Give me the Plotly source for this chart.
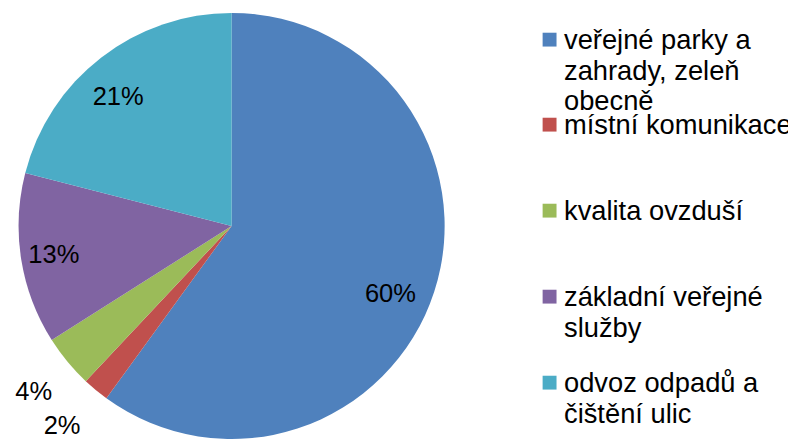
import plotly.graph_objects as go

# ---- data ----
labels = [
    "veřejné parky a<br>zahrady, zeleň<br>obecně",
    "místní komunikace",
    "kvalita ovzduší",
    "základní veřejné<br>služby",
    "odvoz odpadů a<br>čištění ulic",
]
values = [60, 2, 4, 13, 21]
colors = ["#4F81BD", "#C0504D", "#9BBB59", "#8064A2", "#4BACC6"]
text_positions = ["inside", "outside", "outside", "inside", "inside"]

# label placement styling (per slice): small turn (deg) and ring hole
label_turn = [5, 0, 0, 0, -3.3]
label_hole = [0.62, 0, 0, 0.69, 0.62]

# the page body has an 8px margin; lay out in window pixels and convert
OFF = 8
WIN_W, WIN_H = 796, 444
W, H = WIN_W - OFF, WIN_H - OFF
FONT = "Liberation Sans, Arial, sans-serif"


def px_x(x):
    return (x - OFF) / W


def px_y(y):
    return 1 - (y - OFF) / H


# pie geometry (window pixels)
cx = 228
top = 13
r = (WIN_H - top) / 2
domain = dict(x=[px_x(cx - r), px_x(cx + r)], y=[0, px_y(top)])
plain_labels = [l.replace("<br>", " ") for l in labels]
clear = ["rgba(0,0,0,0)"] * len(values)
label_font = dict(family=FONT, size=25.5, color="black")

fig = go.Figure()
# the slices
fig.add_trace(go.Pie(
    labels=plain_labels, values=values, sort=False,
    direction="clockwise", rotation=0,
    marker=dict(colors=colors, line=dict(width=0)),
    textinfo="none", domain=domain, showlegend=False,
    hoverinfo="label+percent",
))
# percentage labels: one transparent layer per slice so each can sit
# where the original puts it (inside ones in the outer ring, outside
# ones with an empty first line to keep them off the rim)
for i, p in enumerate(text_positions):
    tmpl = "%{percent:.0%}" if p == "inside" else "\u00a0<br>%{percent:.0%}"
    fig.add_trace(go.Pie(
        labels=plain_labels, values=values, sort=False,
        direction="clockwise", rotation=label_turn[i],
        hole=label_hole[i],
        marker=dict(colors=clear, line=dict(width=0)),
        texttemplate=tmpl,
        textposition=[p if j == i else "none" for j in range(len(values))],
        insidetextorientation="horizontal",
        textfont=label_font,
        domain=domain, showlegend=False, hoverinfo="skip",
    ))

# ---- legend (drawn manually to match the original line layout) ----
legend_centers = [40, 126, 213, 300, 387]  # window px, first line of each item
line_gap = 31
annotations = []
shapes = []
for lab, col, yc in zip(labels, colors, legend_centers):
    shapes.append(dict(
        type="rect", xref="paper", yref="paper",
        x0=px_x(541), x1=px_x(555), y0=px_y(yc + 7), y1=px_y(yc - 7),
        fillcolor=col, line=dict(width=0),
    ))
    for k, line in enumerate(lab.split("<br>")):
        annotations.append(dict(
            text=line, xref="paper", yref="paper",
            x=px_x(561), y=px_y(yc + k * line_gap),
            xanchor="left", yanchor="middle", showarrow=False,
            font=dict(family=FONT, size=27.3, color="black"),
        ))

fig.update_layout(
    width=W, height=H,
    margin=dict(l=0, r=0, t=0, b=0),
    paper_bgcolor="white", plot_bgcolor="white",
    annotations=annotations, shapes=shapes,
)

fig.write_html("out.html")
